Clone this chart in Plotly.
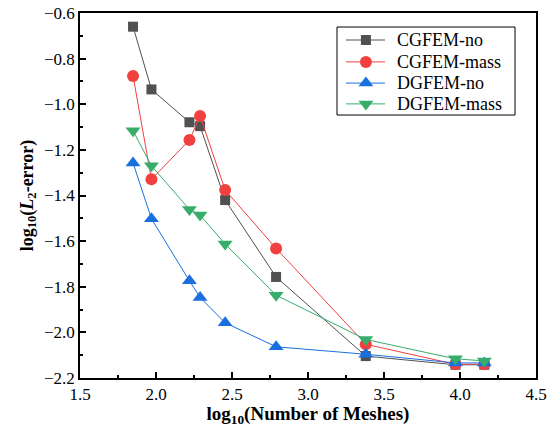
import plotly.graph_objects as go

# log10 of mesh counts
log_meshes = [1.849, 1.97, 2.22, 2.29, 2.455, 2.79, 3.38, 3.97, 4.16]

# log10 of the L2 error for each scheme
cgfem_no = [-0.66, -0.935, -1.079, -1.096, -1.42, -1.757, -2.104, -2.142, -2.142]
cgfem_mass = [-0.876, -1.329, -1.157, -1.052, -1.376, -1.632, -2.052, -2.140, -2.140]
dgfem_no = [-1.257, -1.502, -1.774, -1.847, -1.958, -2.063, -2.096, -2.134, -2.134]
dgfem_mass = [-1.116, -1.27, -1.461, -1.486, -1.613, -1.837, -2.031, -2.116, -2.125]

series_names = ["CGFEM-no", "CGFEM-mass", "DGFEM-no", "DGFEM-mass"]
series_values = [cgfem_no, cgfem_mass, dgfem_no, dgfem_mass]
colors = ["#515151", "#F14040", "#1A6FDF", "#37AD6B"]
symbols = ["square", "circle", "triangle-up", "triangle-down"]
sizes = [10, 12, 13, 13]

font_family = "Liberation Serif"

fig = go.Figure()
for name, vals, col, sym, sz in zip(series_names, series_values, colors, symbols, sizes):
    fig.add_trace(go.Scatter(
        x=log_meshes, y=vals, name=name, mode="lines+markers",
        line=dict(color=col, width=1),
        marker=dict(symbol=sym, size=sz, color=col, line=dict(width=0)),
        showlegend=False,
    ))

# Compact legend box in plot-fraction coordinates (overlay axes spanning 0..1)
leg_x0, leg_x1 = 0.5636, 0.954
leg_y0, leg_y1 = 0.7205, 0.9616
key_x = [0.5833, 0.6270, 0.6689]
text_x = 0.6908
row_y = [0.926, 0.866, 0.808, 0.751]

fig.add_shape(type="rect", xref="paper", yref="paper",
              x0=leg_x0, x1=leg_x1, y0=leg_y0, y1=leg_y1,
              line=dict(color="black", width=1), fillcolor="white", layer="below")

for name, col, sym, sz, ry in zip(series_names, colors, symbols, sizes, row_y):
    fig.add_trace(go.Scatter(
        x=[key_x[0], key_x[2]], y=[ry, ry], mode="lines",
        line=dict(color=col, width=1), xaxis="x2", yaxis="y2",
        showlegend=False, hoverinfo="skip",
    ))
    fig.add_trace(go.Scatter(
        x=[key_x[1]], y=[ry], mode="markers",
        marker=dict(symbol=sym, size=sz, color=col, line=dict(width=0)),
        xaxis="x2", yaxis="y2", showlegend=False, hoverinfo="skip",
    ))
    fig.add_annotation(
        x=text_x, y=ry, xref="paper", yref="paper", text=name,
        showarrow=False, xanchor="left", yanchor="middle",
        font=dict(family=font_family, size=18, color="black"),
    )

axis_common = dict(
    showline=True, linecolor="black", linewidth=1.5, mirror=True,
    ticks="inside", ticklen=6, tickwidth=1.5, tickcolor="black",
    showgrid=False, zeroline=False, automargin=False,
    tickfont=dict(family=font_family, size=17, color="black"),
)

fig.update_layout(
    xaxis=dict(
        range=[1.5, 4.5], dtick=0.5, tick0=1.5, tickformat=".1f",
        minor=dict(ticks="inside", dtick=0.25, ticklen=3, tickwidth=1.5, tickcolor="black"),
        title=dict(text="<b>log<sub>10</sub>(Number of Meshes)</b>",
                   font=dict(family=font_family, size=19, color="black"), standoff=2),
        **axis_common,
    ),
    yaxis=dict(
        range=[-2.2, -0.6], dtick=0.2, tick0=-2.2, tickformat=".1f",
        minor=dict(ticks="inside", dtick=0.1, ticklen=3, tickwidth=1.5, tickcolor="black"),
        title=dict(text="<b>log<sub>10</sub>(<i>L</i><sub>2</sub>-error)</b>",
                   font=dict(family=font_family, size=18, color="black"), standoff=6),
        **axis_common,
    ),
    xaxis2=dict(overlaying="x", range=[0, 1], visible=False, fixedrange=True),
    yaxis2=dict(overlaying="y", range=[0, 1], visible=False, fixedrange=True),
    width=556, height=427,
    margin=dict(l=80, r=20, t=13, b=49, autoexpand=False),
    paper_bgcolor="white", plot_bgcolor="white",
    showlegend=False,
)

fig.write_html("out.html")
